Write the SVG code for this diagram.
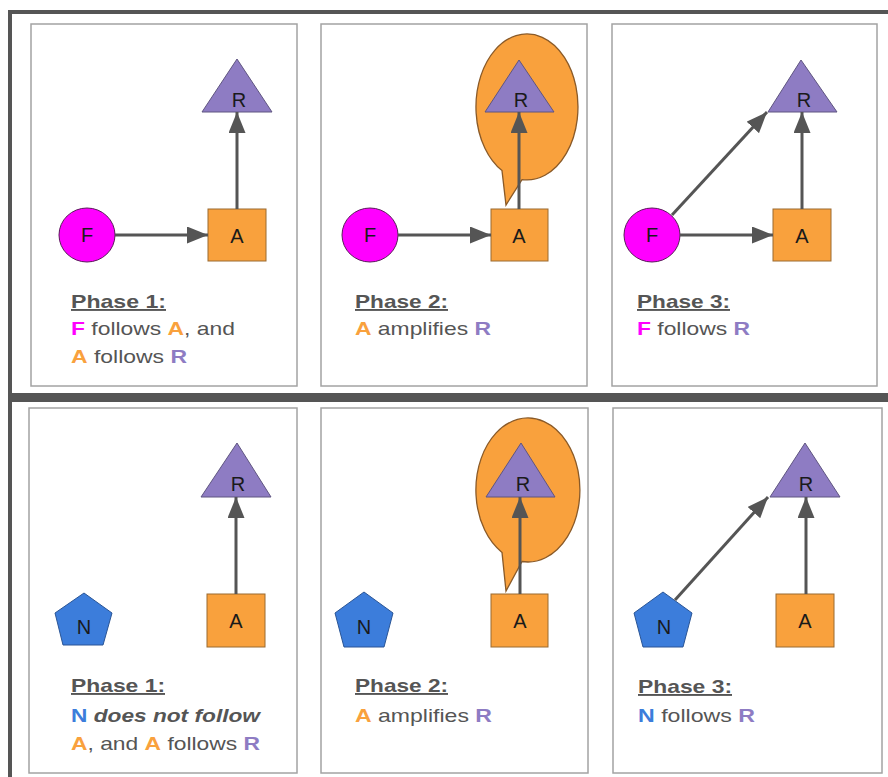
<svg xmlns="http://www.w3.org/2000/svg" width="888" height="777" viewBox="0 0 888 777">
  <style>
    .frame { fill: #555555; }
    .panel { fill: #ffffff; stroke: #a3a3a3; stroke-width: 1.5; }
    .circ { fill: #ff00ff; stroke: #5a1a5a; stroke-width: 1; }
    .sq { fill: #f9a13d; stroke: #9a6a30; stroke-width: 1; }
    .tri { fill: #8e7cc3; stroke: #5f5580; stroke-width: 1; }
    .pent { fill: #3c7ddb; stroke: #2a5596; stroke-width: 1; }
    .bubble { fill: #f9a13d; stroke: #8a5a28; stroke-width: 1.3; }
    .lbl { font-family: "Liberation Sans", Arial, sans-serif; font-size: 20px; fill: #1a1a1a; text-anchor: middle; }
    .cap { font-family: "Liberation Sans", Arial, sans-serif; font-size: 19px; fill: #555555; }
    .head { font-weight: bold; text-decoration: underline; }
    .b { font-weight: bold; }
    .f { fill: #ff00ff; font-weight: bold; }
    .a { fill: #f9a13d; font-weight: bold; }
    .r { fill: #8e7cc3; font-weight: bold; }
    .n { fill: #3c7ddb; font-weight: bold; }
    .link { stroke: #555555; stroke-width: 3; fill: none; marker-end: url(#arrow); }
  </style>
  <defs>
    <marker id="arrow" markerUnits="userSpaceOnUse" markerWidth="21" markerHeight="17" refX="21" refY="8.5" orient="auto">
      <path d="M0,0 L21,8.5 L0,17 Z" fill="#555555"/>
    </marker>
  </defs>

  <rect width="888" height="777" fill="#ffffff"/>

  <!-- outer frames -->
  <g id="frames">
    <rect class="frame" x="8" y="10" width="880" height="4"/>
    <rect class="frame" x="8" y="10" width="4" height="767"/>
    <rect class="frame" x="8" y="393" width="880" height="9"/>
  </g>

  <!-- panel boxes -->
  <g id="panels">
    <rect class="panel" x="31" y="24" width="266" height="362"/>
    <rect class="panel" x="321" y="24" width="266" height="362"/>
    <rect class="panel" x="612" y="24" width="265" height="362"/>
    <rect class="panel" x="29" y="408" width="268" height="365"/>
    <rect class="panel" x="321" y="408" width="267" height="365"/>
    <rect class="panel" x="613" y="408" width="269" height="365"/>
  </g>

  <!-- amplification bubbles -->
  <g id="bubble-top">
    <path class="bubble" d="M502,170.6 L506,205 L522,179.6 A51 73 0 1 0 502,170.6 Z"/>
  </g>
  <g id="bubble-bottom">
    <path class="bubble" d="M502,552.4 L506,591 L522,561.5 A52 72 0 1 0 502,552.4 Z"/>
  </g>

  <!-- Top row, phase 1 -->
  <g id="p1-R"><polygon class="tri" points="237,59 202,112 272,112"/><text class="lbl" x="239" y="107">R</text></g>
  <g id="p1-F"><ellipse class="circ" cx="87" cy="235" rx="28" ry="27"/><text class="lbl" x="87" y="242">F</text></g>
  <g id="p1-A"><rect class="sq" x="208" y="209" width="58" height="52"/><text class="lbl" x="237" y="243">A</text></g>

  <!-- Top row, phase 2 -->
  <g id="p2-R"><polygon class="tri" points="519,60 485,112 554,112"/><text class="lbl" x="521" y="107">R</text></g>
  <g id="p2-F"><ellipse class="circ" cx="370" cy="235" rx="28" ry="27"/><text class="lbl" x="370" y="242">F</text></g>
  <g id="p2-A"><rect class="sq" x="491" y="209" width="57" height="52"/><text class="lbl" x="519" y="243">A</text></g>

  <!-- Top row, phase 3 -->
  <g id="p3-R"><polygon class="tri" points="801,60 768,112 837,112"/><text class="lbl" x="804" y="107">R</text></g>
  <g id="p3-F"><ellipse class="circ" cx="652" cy="235" rx="28" ry="27"/><text class="lbl" x="652" y="242">F</text></g>
  <g id="p3-A"><rect class="sq" x="773" y="209" width="58" height="52"/><text class="lbl" x="802" y="243">A</text></g>

  <!-- Bottom row, phase 1 -->
  <g id="p4-R"><polygon class="tri" points="237,443 201,497 271,497"/><text class="lbl" x="238" y="491">R</text></g>
  <g id="p4-N"><polygon class="pent" points="84,593 112,613 103,645 63,645 55,613"/><text class="lbl" x="84" y="634">N</text></g>
  <g id="p4-A"><rect class="sq" x="207" y="594" width="58" height="53"/><text class="lbl" x="236" y="628">A</text></g>

  <!-- Bottom row, phase 2 -->
  <g id="p5-R"><polygon class="tri" points="521,443 486,497 555,497"/><text class="lbl" x="523" y="491">R</text></g>
  <g id="p5-N"><polygon class="pent" points="364,592 393,613 384,647 344,647 335,613"/><text class="lbl" x="364" y="634">N</text></g>
  <g id="p5-A"><rect class="sq" x="491" y="594" width="57" height="53"/><text class="lbl" x="520" y="628">A</text></g>

  <!-- Bottom row, phase 3 -->
  <g id="p6-R"><polygon class="tri" points="805,443 770,497 840,497"/><text class="lbl" x="806" y="491">R</text></g>
  <g id="p6-N"><polygon class="pent" points="663,592 692,613 683,647 643,647 634,613"/><text class="lbl" x="664" y="634">N</text></g>
  <g id="p6-A"><rect class="sq" x="776" y="594" width="58" height="53"/><text class="lbl" x="805" y="628">A</text></g>

  <!-- connectors -->
  <g id="connectors">
    <line class="link" x1="115" y1="235" x2="208" y2="235"/>
    <line class="link" x1="237" y1="209" x2="237" y2="112"/>
    <line class="link" x1="398" y1="235" x2="491" y2="235"/>
    <line class="link" x1="519" y1="209" x2="519" y2="112"/>
    <line class="link" x1="680" y1="235" x2="773" y2="235"/>
    <line class="link" x1="802" y1="209" x2="802" y2="112"/>
    <line class="link" x1="672" y1="215" x2="767" y2="112"/>
    <line class="link" x1="236" y1="594" x2="236" y2="497"/>
    <line class="link" x1="520" y1="594" x2="520" y2="497"/>
    <line class="link" x1="806" y1="594" x2="806" y2="497"/>
    <line class="link" x1="675" y1="600" x2="768" y2="497"/>
  </g>

  <!-- captions -->
  <g id="captions">
    <text class="cap head" x="71" y="308" textLength="95" lengthAdjust="spacingAndGlyphs">Phase 1:</text>
    <text class="cap" x="71" y="335" textLength="164" lengthAdjust="spacingAndGlyphs"><tspan class="f">F</tspan> follows <tspan class="a">A</tspan>, and</text>
    <text class="cap" x="71" y="363" textLength="116" lengthAdjust="spacingAndGlyphs"><tspan class="a">A</tspan> follows <tspan class="r">R</tspan></text>

    <text class="cap head" x="355" y="308" textLength="93" lengthAdjust="spacingAndGlyphs">Phase 2:</text>
    <text class="cap" x="355" y="335" textLength="136" lengthAdjust="spacingAndGlyphs"><tspan class="a">A</tspan> amplifies <tspan class="r">R</tspan></text>

    <text class="cap head" x="637" y="308" textLength="93" lengthAdjust="spacingAndGlyphs">Phase 3:</text>
    <text class="cap" x="637" y="335" textLength="113" lengthAdjust="spacingAndGlyphs"><tspan class="f">F</tspan> follows <tspan class="r">R</tspan></text>

    <text class="cap head" x="71" y="692" textLength="94" lengthAdjust="spacingAndGlyphs">Phase 1:</text>
    <text class="cap" x="71" y="722" textLength="189" lengthAdjust="spacingAndGlyphs"><tspan class="n">N</tspan> <tspan class="b" font-style="italic">does not follow</tspan></text>
    <text class="cap" x="71" y="750" textLength="189" lengthAdjust="spacingAndGlyphs"><tspan class="a">A</tspan>, and <tspan class="a">A</tspan> follows <tspan class="r">R</tspan></text>

    <text class="cap head" x="355" y="692" textLength="93" lengthAdjust="spacingAndGlyphs">Phase 2:</text>
    <text class="cap" x="355" y="722" textLength="137" lengthAdjust="spacingAndGlyphs"><tspan class="a">A</tspan> amplifies <tspan class="r">R</tspan></text>

    <text class="cap head" x="638" y="693" textLength="94" lengthAdjust="spacingAndGlyphs">Phase 3:</text>
    <text class="cap" x="638" y="722" textLength="117" lengthAdjust="spacingAndGlyphs"><tspan class="n">N</tspan> follows <tspan class="r">R</tspan></text>
  </g>
</svg>
